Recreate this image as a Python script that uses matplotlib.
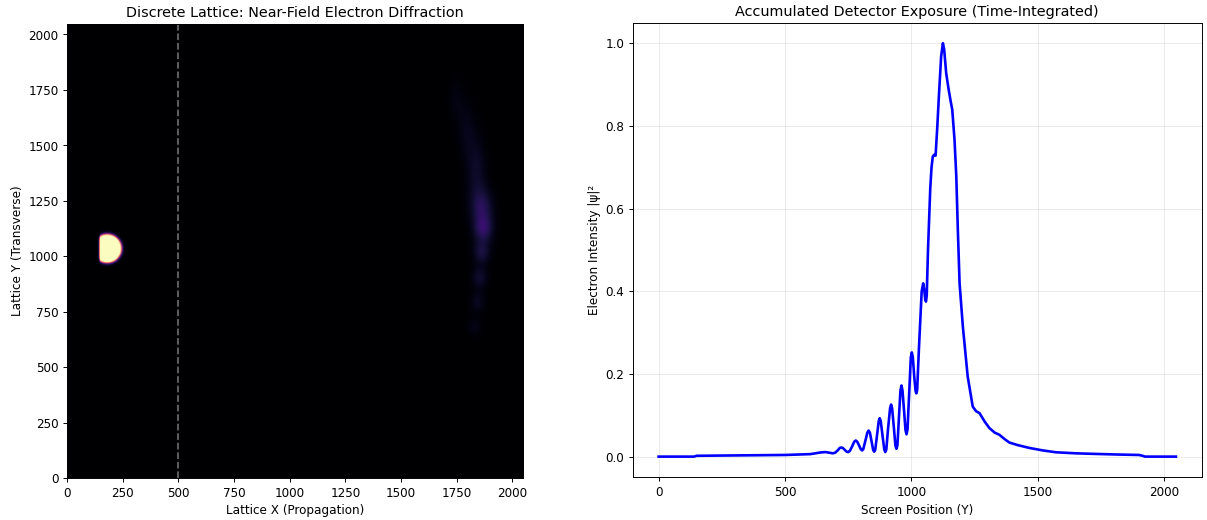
import numpy as np
import matplotlib
matplotlib.use("Agg")
import matplotlib.pyplot as plt

# ---------------- data ----------------
lattice_size = 2048
slit_x = 500

# incoming wave packet (saturated half-disk)
packet_center_x = 180
packet_center_y = 1033
packet_radius = 63
packet_cut_x = 146

# faint diffracted streak near the far side: (x, y, amplitude, sigma_x, sigma_y)
streak_x = [1860, 1866, 1858, 1850, 1840, 1826, 1835, 1790, 1745]
streak_y = [1215, 1118, 1015, 902, 794, 681, 1380, 1560, 1700]
streak_amp = [0.14, 0.15, 0.11, 0.085, 0.06, 0.04, 0.075, 0.045, 0.03]
streak_sx = [34, 30, 27, 25, 23, 22, 30, 26, 24]
streak_sy = [60, 42, 36, 34, 32, 32, 110, 90, 70]

# detector exposure profile
screen_pos = [0, 140, 150, 500, 600, 640, 660, 690, 700, 710, 717, 723, 729, 737, 744,
              750, 757, 766, 774, 780, 786, 794, 800, 805, 810, 818, 826, 831, 836,
              843, 849, 853, 857, 864, 871, 875, 879, 886, 893, 897, 901, 908, 916,
              920, 924, 931, 937, 941, 945, 951, 957, 961, 965, 971, 977, 981, 985,
              992, 998, 1002, 1006, 1012, 1017, 1020, 1023, 1030, 1041, 1047, 1051,
              1055, 1058, 1061, 1066, 1075, 1080, 1085, 1090, 1096, 1103, 1109, 1118,
              1125, 1130, 1138, 1148, 1155, 1162, 1171, 1178, 1184, 1191, 1204, 1223,
              1243, 1256, 1270, 1290, 1309, 1330, 1348, 1370, 1388, 1420, 1467, 1520,
              1572, 1650, 1730, 1820, 1901, 1915, 1925, 2047]
intensity = [0.0, 0.0, 0.002, 0.004, 0.006, 0.010, 0.011, 0.008, 0.010, 0.016, 0.021,
             0.022, 0.021, 0.016, 0.012, 0.011, 0.014, 0.025, 0.036, 0.039, 0.036,
             0.026, 0.018, 0.015, 0.018, 0.038, 0.058, 0.063, 0.058, 0.036, 0.016,
             0.012, 0.016, 0.050, 0.086, 0.093, 0.086, 0.051, 0.017, 0.011, 0.017,
             0.068, 0.117, 0.126, 0.117, 0.070, 0.027, 0.019, 0.027, 0.095, 0.160,
             0.172, 0.160, 0.113, 0.064, 0.054, 0.066, 0.160, 0.240, 0.252, 0.240,
             0.190, 0.158, 0.153, 0.160, 0.260, 0.400, 0.419, 0.405, 0.380, 0.375,
             0.390, 0.500, 0.650, 0.700, 0.726, 0.730, 0.728, 0.800, 0.871, 0.968,
             1.000, 0.985, 0.927, 0.887, 0.862, 0.839, 0.766, 0.677, 0.550, 0.419,
             0.314, 0.194, 0.121, 0.110, 0.105, 0.085, 0.069, 0.058, 0.053, 0.042,
             0.034, 0.028, 0.021, 0.015, 0.0105, 0.008, 0.0065, 0.005, 0.004, 0.002,
             0.0, 0.0]

x_ticks_left = [0, 250, 500, 750, 1000, 1250, 1500, 1750, 2000]
y_ticks_left = [0, 250, 500, 750, 1000, 1250, 1500, 1750, 2000]
x_ticks_right = [0, 500, 1000, 1500, 2000]
y_ticks_right = [0.0, 0.2, 0.4, 0.6, 0.8, 1.0]

# ---------------- build lattice field ----------------
n = 512
coords = (np.arange(n) + 0.5) * lattice_size / n
X, Y = np.meshgrid(coords, coords)
r = np.hypot(X - packet_center_x, Y - packet_center_y)
field = 1.5 / (1 + np.exp((r - packet_radius) / 4.0))
field *= 1 / (1 + np.exp(-(X - packet_cut_x) / 2.0))
for sx_, sy_, a, wx, wy in zip(streak_x, streak_y, streak_amp, streak_sx, streak_sy):
    field += a * np.exp(-((X - sx_) ** 2) / (2 * wx ** 2) - ((Y - sy_) ** 2) / (2 * wy ** 2))

# ---------------- figure ----------------
fig = plt.figure(figsize=(14, 6.033), dpi=86.22)

ax1 = fig.add_axes([67 / 1207, 1 - 478 / 520, 456 / 1207, 454 / 520])
ax1.imshow(field, cmap="magma", origin="lower", extent=[0, lattice_size, 0, lattice_size],
           vmin=0, vmax=1, aspect="auto", interpolation="bilinear")
ax1.axvline(slit_x, color="gray", linestyle="--", linewidth=1.5, alpha=0.8)
ax1.set_xlim(0, lattice_size)
ax1.set_ylim(0, lattice_size)
ax1.set_xticks(x_ticks_left)
ax1.set_yticks(y_ticks_left)
ax1.set_title("Discrete Lattice: Near-Field Electron Diffraction", fontsize=12)
ax1.set_xlabel("Lattice X (Propagation)")
ax1.set_ylabel("Lattice Y (Transverse)")

ax2 = fig.add_axes([632.7 / 1207, 1 - 477.3 / 520, 569 / 1207, 454.6 / 520])
ax2.plot(screen_pos, intensity, color="#0000ff", linewidth=2.2)
ax2.grid(True, alpha=0.25)
ax2.set_xticks(x_ticks_right)
ax2.set_yticks(y_ticks_right)
ax2.set_title("Accumulated Detector Exposure (Time-Integrated)", fontsize=12)
ax2.set_xlabel("Screen Position (Y)")
ax2.set_ylabel("Electron Intensity |ψ|²")

fig.savefig("out.png", dpi=86.22)
